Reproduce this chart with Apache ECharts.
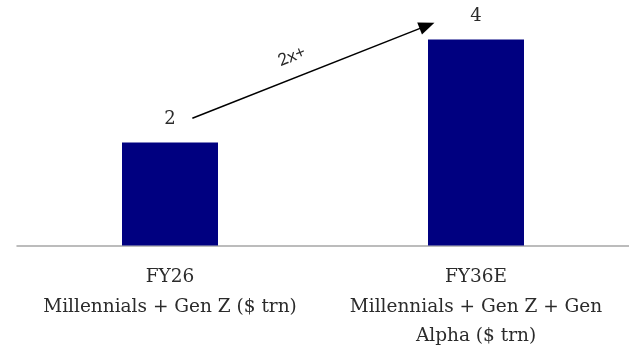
<!DOCTYPE html>
<html>
<head>
<meta charset="utf-8">
<script src="https://cdn.jsdelivr.net/npm/echarts@6/dist/echarts.min.js"></script>
<style>
  html, body { margin: 0; padding: 0; background: #ffffff; }
  #chart { width: 629px; height: 351px; }
</style>
</head>
<body>
<div id="chart"></div>
<script>
// Spending power, $ trillion
const categories = [
  'FY26\nMillennials + Gen Z ($ trn)',
  'FY36E\nMillennials + Gen Z + Gen\nAlpha ($ trn)'
];
const values = [2, 4];

// Growth arrow between the two bars: [x (category position), y (value)]
const arrowStart = [0.073, 2.47];
const arrowEnd = [0.84, 4.27];
const arrowText = '2x+';

const serif = '"DejaVu Serif", "Liberation Serif", serif';
const textColor = '#2b2b2b';

const chart = echarts.init(document.getElementById('chart'), null, { renderer: 'canvas' });

chart.setOption({
  animation: false,
  grid: { left: 17, right: -2, top: 13.75, bottom: 105.5, containLabel: false },
  xAxis: [
    {
      type: 'category',
      data: categories,
      axisLine: { show: true, lineStyle: { color: '#a6a6a6', width: 1.5 } },
      axisTick: { show: false },
      axisLabel: {
        interval: 0,
        margin: 17,
        color: textColor,
        fontFamily: serif,
        fontSize: 18.5,
        lineHeight: 29.5
      }
    },
    {
      // hidden continuous axis sharing the category bands, used to place the arrow
      type: 'value',
      min: -0.5,
      max: 1.5,
      show: false
    }
  ],
  yAxis: {
    type: 'value',
    min: 0,
    max: 4.5,
    show: false,
    splitLine: { show: false }
  },
  series: [
    {
      type: 'bar',
      data: values,
      barWidth: 96,
      itemStyle: { color: '#000080' },
      label: {
        show: true,
        position: 'top',
        distance: 14,
        color: textColor,
        fontFamily: serif,
        fontSize: 18
      }
    },
    {
      type: 'line',
      xAxisIndex: 1,
      data: [],
      silent: true,
      markLine: {
        silent: true,
        symbol: ['none', 'triangle'],
        symbolSize: [13, 16],
        lineStyle: { color: '#000000', width: 1.5, type: 'solid' },
        label: {
          show: true,
          position: 'middle',
          formatter: arrowText,
          distance: 13,
          padding: [0, 22, 0, 0],
          color: textColor,
          fontFamily: 'Lato, "Open Sans", sans-serif',
          fontSize: 17
        },
        data: [[
          { coord: arrowStart },
          { coord: arrowEnd }
        ]]
      }
    }
  ]
});
</script>
</body>
</html>
